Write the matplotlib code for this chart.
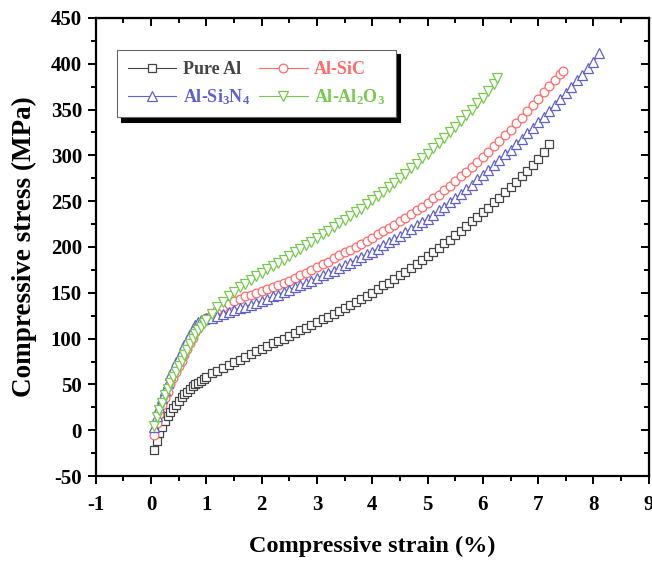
import matplotlib
matplotlib.use("Agg")
import matplotlib.pyplot as plt
from matplotlib.ticker import MultipleLocator, NullFormatter

plt.rcParams['font.family'] = ['Liberation Serif', 'DejaVu Serif']
plt.rcParams['font.weight'] = 'bold'
plt.rcParams['axes.unicode_minus'] = False
plt.rcParams['mathtext.fontset'] = 'custom'
plt.rcParams['mathtext.bf'] = 'Liberation Serif:bold'
plt.rcParams['mathtext.rm'] = 'Liberation Serif:bold'
plt.rcParams['mathtext.default'] = 'bf'

# strain (%) and stress (MPa)
pure_x = [0.05, 0.1, 0.15, 0.2, 0.25, 0.3, 0.35, 0.4, 0.45, 0.5, 0.55, 0.6, 0.65,
          0.7, 0.75, 0.8, 0.85, 0.9, 0.95,
          1.0, 1.1, 1.2, 1.3, 1.4, 1.5, 1.6, 1.7, 1.8, 1.9, 2.0, 2.1, 2.2, 2.3, 2.4,
          2.5, 2.6, 2.7, 2.8, 2.9, 3.0, 3.1, 3.2, 3.3, 3.4, 3.5, 3.6, 3.7, 3.8, 3.9,
          4.0, 4.1, 4.2, 4.3, 4.4, 4.5, 4.6, 4.7, 4.8, 4.9, 5.0, 5.1, 5.2, 5.3, 5.4,
          5.5, 5.6, 5.7, 5.8, 5.9, 6.0, 6.1, 6.2, 6.3, 6.4, 6.5, 6.6, 6.7, 6.8, 6.9,
          7.0, 7.1, 7.2]
pure_y = [-22, -12, -3, 4, 10, 15, 20, 24, 28, 32, 36, 39, 42,
          45, 48, 50, 52, 54, 56,
          58, 62, 65, 68, 71, 74, 77, 80, 83, 86, 89, 92, 95, 97, 100,
          103, 106, 109, 112, 115, 118, 121, 124, 127, 130, 133, 137, 140, 143, 147,
          150, 154, 158, 161, 165, 169, 173, 177, 181, 186, 190, 195, 199, 204, 208,
          213, 218, 223, 228, 233, 238, 243, 249, 254, 260, 265, 271, 277, 283, 290,
          296, 304, 312]

sic_x = [0.05, 0.1, 0.15, 0.2, 0.25, 0.3, 0.35, 0.4, 0.45, 0.5, 0.55, 0.6, 0.65,
         0.7, 0.75, 0.8, 0.85, 0.9, 0.95,
         1.0, 1.1, 1.2, 1.3, 1.4, 1.5, 1.6, 1.7, 1.8, 1.9, 2.0, 2.1, 2.2, 2.3, 2.4,
         2.5, 2.6, 2.7, 2.8, 2.9, 3.0, 3.1, 3.2, 3.3, 3.4, 3.5, 3.6, 3.7, 3.8, 3.9,
         4.0, 4.1, 4.2, 4.3, 4.4, 4.5, 4.6, 4.7, 4.8, 4.9, 5.0, 5.1, 5.2, 5.3, 5.4,
         5.5, 5.6, 5.7, 5.8, 5.9, 6.0, 6.1, 6.2, 6.3, 6.4, 6.5, 6.6, 6.7, 6.8, 6.9,
         7.0, 7.1, 7.2, 7.3, 7.4, 7.45]
sic_y = [-5, 8, 18, 27, 35, 42, 50, 57, 64, 70, 76, 82, 89,
         95, 101, 107, 112, 116, 119,
         122, 127, 131, 135, 138, 141, 143, 146, 148, 150, 152, 154, 156, 158, 161,
         163, 166, 169, 172, 175, 178, 181, 184, 188, 191, 194, 197, 200, 203, 207,
         210, 214, 217, 221, 224, 228, 232, 236, 240, 244, 248, 253, 257, 262, 267,
         272, 277, 282, 287, 293, 298, 304, 310, 316, 322, 328, 335, 341, 348, 355,
         362, 369, 376, 382, 389, 392]

si3n4_x = [0.05, 0.1, 0.15, 0.2, 0.25, 0.3, 0.35, 0.4, 0.45, 0.5, 0.55, 0.6, 0.65,
           0.7, 0.75, 0.8, 0.85, 0.9, 0.95,
           1.0, 1.1, 1.2, 1.3, 1.4, 1.5, 1.6, 1.7, 1.8, 1.9, 2.0, 2.1, 2.2, 2.3, 2.4,
           2.5, 2.6, 2.7, 2.8, 2.9, 3.0, 3.1, 3.2, 3.3, 3.4, 3.5, 3.6, 3.7, 3.8, 3.9,
           4.0, 4.1, 4.2, 4.3, 4.4, 4.5, 4.6, 4.7, 4.8, 4.9, 5.0, 5.1, 5.2, 5.3, 5.4,
           5.5, 5.6, 5.7, 5.8, 5.9, 6.0, 6.1, 6.2, 6.3, 6.4, 6.5, 6.6, 6.7, 6.8, 6.9,
           7.0, 7.1, 7.2, 7.3, 7.4, 7.5, 7.6, 7.7, 7.8, 7.9, 8.0, 8.1]
si3n4_y = [3, 15, 25, 35, 44, 52, 60, 67, 74, 80, 87, 93, 99,
           105, 110, 115, 118, 120, 121,
           122, 123, 125, 127, 129, 131, 133, 135, 137, 139, 141, 143, 146, 148, 151,
           153, 156, 158, 161, 163, 166, 169, 172, 174, 177, 180, 183, 186, 189, 192,
           195, 198, 202, 205, 209, 212, 216, 220, 224, 227, 231, 235, 240, 244, 249,
           253, 258, 263, 268, 274, 279, 284, 290, 295, 301, 306, 312, 318, 324, 330,
           336, 342, 349, 355, 362, 368, 375, 382, 388, 395, 402, 412]

al2o3_x = [0.05, 0.1, 0.15, 0.2, 0.25, 0.3, 0.35, 0.4, 0.45, 0.5, 0.55, 0.6, 0.65,
           0.7, 0.75, 0.8, 0.85, 0.9, 0.95,
           1.0, 1.1, 1.2, 1.3, 1.4, 1.5, 1.6, 1.7, 1.8, 1.9, 2.0, 2.1, 2.2, 2.3, 2.4,
           2.5, 2.6, 2.7, 2.8, 2.9, 3.0, 3.1, 3.2, 3.3, 3.4, 3.5, 3.6, 3.7, 3.8, 3.9,
           4.0, 4.1, 4.2, 4.3, 4.4, 4.5, 4.6, 4.7, 4.8, 4.9, 5.0, 5.1, 5.2, 5.3, 5.4,
           5.5, 5.6, 5.7, 5.8, 5.9, 6.0, 6.1, 6.2, 6.25]
al2o3_y = [5, 14, 22, 30, 38, 45, 52, 58, 64, 70, 76, 82, 88,
           94, 100, 105, 109, 113, 117,
           120, 127, 134, 140, 146, 151, 156, 160, 164, 168, 172, 176, 179, 183, 186,
           190, 194, 198, 202, 206, 210, 214, 218, 222, 226, 230, 234, 238, 242, 247,
           251, 256, 260, 265, 270, 275, 280, 286, 291, 297, 302, 308, 313, 319, 325,
           331, 337, 344, 350, 357, 363, 370, 378, 385]

fig = plt.figure(figsize=(6.52, 5.62), dpi=100)
ax = fig.add_axes([0.147, 0.153, 0.848, 0.815])

ms = 6.3
l1, = ax.plot(pure_x, pure_y, color='#444444', lw=0.8, marker='s', ms=ms - 0.3,
              mfc='white', mew=0.9, label='Pure Al')
l2, = ax.plot(sic_x, sic_y, color='#ff6a6a', lw=0.8, marker='o', ms=ms,
              mfc='white', mew=0.9, label='Al-SiC')
l3, = ax.plot(si3n4_x, si3n4_y, color='#6060cc', lw=0.8, marker='^', ms=ms + 0.5,
              mfc='white', mew=0.9, label='Al-Si$_3$N$_4$')
l4, = ax.plot(al2o3_x, al2o3_y, color='#78c850', lw=0.8, marker='v', ms=ms + 0.5,
              mfc='white', mew=0.9, label='Al-Al$_2$O$_3$')

ax.set_xlim(-1, 9)
ax.set_ylim(-50, 450)
ax.xaxis.set_major_locator(MultipleLocator(1))
ax.xaxis.set_minor_locator(MultipleLocator(0.5))
ax.yaxis.set_major_locator(MultipleLocator(50))
ax.yaxis.set_minor_locator(MultipleLocator(25))
ax.tick_params(which='both', direction='out', labelsize=15, width=1.4)
ax.tick_params(which='major', length=6)
ax.tick_params(which='minor', length=3.5)
ax.tick_params(axis='x', pad=8)
ax.tick_params(axis='y', pad=4)
for lab in ax.get_xticklabels() + ax.get_yticklabels():
    lab.set_fontweight('bold')
for s in ax.spines.values():
    s.set_linewidth(1.6)

# mirrored axes with inward ticks on top and right
top = ax.secondary_xaxis('top')
top.xaxis.set_major_locator(MultipleLocator(1))
top.xaxis.set_minor_locator(MultipleLocator(0.5))
top.xaxis.set_major_formatter(NullFormatter())
top.tick_params(which='both', direction='in', width=1.4)
top.tick_params(which='major', length=6)
top.tick_params(which='minor', length=3.5)
right = ax.secondary_yaxis('right')
right.yaxis.set_major_locator(MultipleLocator(50))
right.yaxis.set_minor_locator(MultipleLocator(25))
right.yaxis.set_major_formatter(NullFormatter())
right.tick_params(which='both', direction='in', width=1.4)
right.tick_params(which='major', length=6)
right.tick_params(which='minor', length=3.5)

ax.set_xlabel('Compressive strain (%)', fontsize=17.5, fontweight='bold', labelpad=15)
ax.set_ylabel('Compressive stress (MPa)', fontsize=19.5, fontweight='bold', labelpad=10)

leg = ax.legend([l1, l3, l2, l4], [l1.get_label(), l3.get_label(), l2.get_label(), l4.get_label()],
                loc='upper left', bbox_to_anchor=(0.038, 0.93), borderaxespad=0, ncol=2,
                fontsize=13, handlelength=2.7, columnspacing=0.5, handletextpad=0.35,
                labelspacing=0.5, borderpad=0.6, fancybox=False, edgecolor='#666666',
                shadow={'color': 'black', 'alpha': 1.0, 'ox': 3, 'oy': -3}, framealpha=1)
leg.get_frame().set_linewidth(0.8)
for txt, line in zip(leg.get_texts(), leg.get_lines()):
    txt.set_color(line.get_color())

fig.savefig('out.png', dpi=100)
